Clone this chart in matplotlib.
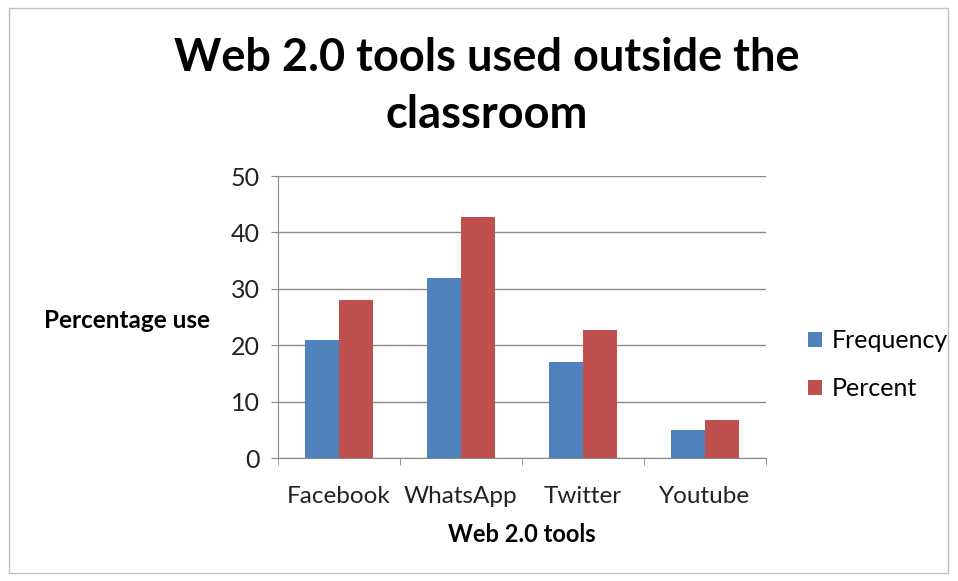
import numpy as np
import matplotlib
matplotlib.use("Agg")
import matplotlib.pyplot as plt
from matplotlib.patches import Rectangle

categories = ['Facebook', 'WhatsApp', 'Twitter', 'Youtube']
frequency = [21, 32, 17, 5]
percent = [28, 42.67, 22.67, 6.67]
series_names = ['Frequency', 'Percent']
yticks = [0, 10, 20, 30, 40, 50]

blue = '#4f81bd'
red = '#c0504d'

plt.rcParams['font.family'] = ['Lato', 'DejaVu Sans']

fig = plt.figure(figsize=(9.58, 5.81), dpi=100)
ax = fig.add_axes([0.290, 0.2117, 0.5094, 0.4853])

# outer chart border
fig.patches.append(Rectangle((0.009, 0.014), 0.981, 0.972, transform=fig.transFigure,
                             fill=False, edgecolor='#bfbfbf', linewidth=1))

x = np.arange(len(categories))
w = 0.28
ax.bar(x - w/2, frequency, w, color=blue, label=series_names[0], zorder=3)
ax.bar(x + w/2, percent, w, color=red, label=series_names[1], zorder=3)

ax.set_xlim(-0.5, len(categories) - 0.5)
ax.set_ylim(0, 50)
ax.set_yticks(yticks)
ax.set_xticks(x)
ax.set_xticklabels(categories, fontsize=17.5, color='#222222')
ax.tick_params(axis='y', labelsize=18, labelcolor='#222222', length=5, color='#888888', pad=8)
ax.tick_params(axis='x', length=0, pad=20)
# category separators
ax.set_xticks(np.arange(len(categories) + 1) - 0.5, minor=True)
ax.tick_params(axis='x', which='minor', length=5, color='#888888')

ax.grid(axis='y', color='#8c8c8c', linewidth=1, zorder=0)
for s in ['top', 'right']:
    ax.spines[s].set_visible(False)
ax.spines['left'].set_color('#888888')
ax.spines['bottom'].set_color('#888888')

ax.set_xlabel('Web 2.0 tools', fontsize=17, fontweight='bold', labelpad=12)
fig.text(0.046, 0.449, 'Percentage use', fontsize=17.5, fontweight='bold', va='center', ha='left')

fig.text(0.508, 0.851, 'Web 2.0 tools used outside the\nclassroom', fontsize=32.5,
         fontweight='bold', ha='center', va='center', linespacing=1.42)

ax.legend(loc='center left', bbox_to_anchor=(1.04, 0.332), frameon=False, fontsize=18,
          handlelength=0.55, handleheight=0.55, handletextpad=0.4, labelspacing=1.0)

fig.savefig('out.png', dpi=100)
